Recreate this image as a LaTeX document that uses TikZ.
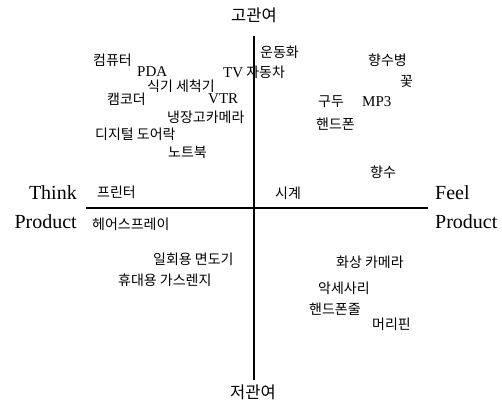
\documentclass[tikz,border=0pt]{standalone}
\usepackage{fontspec}
\setmainfont{Liberation Serif}
\newfontfamily\kr{Noto Sans CJK KR}
\newcommand\latn[1]{{\rmfamily\fontsize{15}{15}\selectfont #1}}
\begin{document}
\begin{tikzpicture}[x=1pt,y=-1pt,
  lbl/.style={inner sep=0pt, anchor=west, font=\kr\fontsize{14}{14}\selectfont},
  ttl/.style={inner sep=0pt, font=\kr\fontsize{16.5}{16.5}\selectfont},
  axlbl/.style={inner sep=0pt, font=\rmfamily\fontsize{20}{20}\selectfont},
  axis/.style={line width=1.1pt, draw=black}]
\useasboundingbox (0,0) rectangle (502,410);
% axes
\coordinate (top) at (254,36);
\coordinate (bot) at (254,380);
\coordinate (lft) at (86,208);
\coordinate (rgt) at (428,208);
\draw[axis] (top) -- (bot);
\draw[axis] (lft) -- (rgt);
% axis titles
\node[ttl] (hi) at (254,15) {고관여};
\node[ttl] (lo) at (253,392) {저관여};
\node[axlbl, anchor=east] (think) at (77,193) {Think};
\node[axlbl, anchor=east] (prodl) at (77,222) {Product};
\node[axlbl, anchor=west] (feel) at (435,193) {Feel};
\node[axlbl, anchor=west] (prodr) at (435,222) {Product};
% upper left
\node[lbl] (computer) at (93,60) {컴퓨터};
\node[lbl] (pda) at (137,72) {\latn{PDA}};
\node[lbl] (dish) at (147,86) {식기 세척기};
\node[lbl] (tvcar) at (223,72) {\latn{TV} 자동차};
\node[lbl] (camcorder) at (107,99) {캠코더};
\node[lbl] (vtr) at (208,99) {\latn{VTR}};
\node[lbl] (fridge) at (167,117) {냉장고카메라};
\node[lbl] (doorlock) at (95,134) {디지털 도어락};
\node[lbl] (notebook) at (168,152) {노트북};
% upper right
\node[lbl] (shoes2) at (260,52) {운동화};
\node[lbl] (bottle) at (368,60) {향수병};
\node[lbl] (flower) at (400,81) {꽃};
\node[lbl] (shoes) at (318,102) {구두};
\node[lbl] (mp3) at (362,102) {\latn{MP3}};
\node[lbl] (phone) at (316,124) {핸드폰};
\node[lbl] (perfume) at (370,172) {향수};
% near axis
\node[lbl] (printer) at (97,192) {프린터};
\node[lbl] (watch) at (275,193) {시계};
\node[lbl] (spray) at (92,224) {헤어스프레이};
% lower left
\node[lbl] (razor) at (153,259) {일회용 면도기};
\node[lbl] (stove) at (118,280) {휴대용 가스렌지};
% lower right
\node[lbl] (webcam) at (336,262) {화상 카메라};
\node[lbl] (acc) at (318,288) {악세사리};
\node[lbl] (strap) at (309,309) {핸드폰줄};
\node[lbl] (pin) at (372,324) {머리핀};
\end{tikzpicture}
\end{document}
